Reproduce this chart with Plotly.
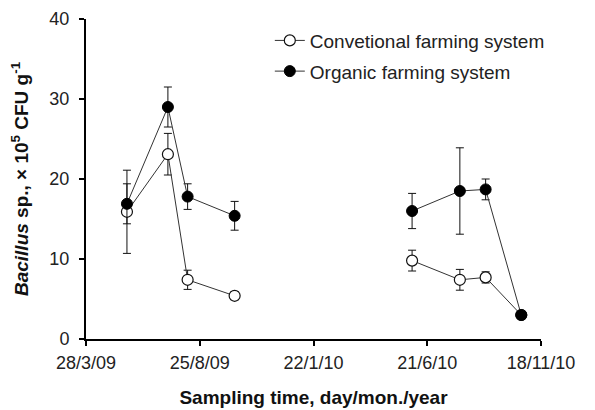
import plotly.graph_objects as go

dates = ["2009-05-21", "2009-07-14", "2009-08-09", "2009-10-10", None,
         "2010-06-01", "2010-08-03", "2010-09-06", "2010-10-23"]
conv = [15.9, 23.1, 7.4, 5.4, None, 9.8, 7.4, 7.7, 3.0]
conv_err = [5.2, 2.6, 1.2, 0.5, None, 1.3, 1.3, 0.7, 0.3]
org = [16.9, 29.0, 17.8, 15.4, None, 16.0, 18.5, 18.7, 3.0]
org_err = [2.5, 2.5, 1.6, 1.8, None, 2.2, 5.4, 1.3, 0.3]

tick_vals = ["2009-03-28", "2009-08-25", "2010-01-22", "2010-06-21", "2010-11-18"]
tick_text = ["28/3/09", "25/8/09", "22/1/10", "21/6/10", "18/11/10"]

font = "Liberation Sans, Arial, sans-serif"

fig = go.Figure()
fig.add_trace(go.Scatter(
    x=dates, y=conv, mode="lines+markers", name="Convetional farming system",
    legendgroup="a",
    line=dict(color="#333333", width=1),
    marker=dict(symbol="circle", size=11, color="white", line=dict(color="#111111", width=1.2)),
    error_y=dict(type="data", array=conv_err, color="#111111", thickness=1, width=4),
    connectgaps=False,
))
fig.add_trace(go.Scatter(
    x=dates, y=org, mode="lines+markers", name="Organic farming system",
    legendgroup="b",
    line=dict(color="#333333", width=1),
    marker=dict(symbol="circle", size=11, color="black", line=dict(color="black", width=1)),
    error_y=dict(type="data", array=org_err, color="#111111", thickness=1, width=4),
    connectgaps=False,
))

fig.update_layout(
    width=587, height=402,
    margin=dict(l=78, r=54, t=11, b=71, autoexpand=False),
    plot_bgcolor="white", paper_bgcolor="white",
    font=dict(family=font, size=17, color="#222222"),
    showlegend=True,
    legend=dict(x=0.404, y=0.992, xanchor="left", yanchor="top",
                font=dict(size=19, color="#222222"),
                tracegroupgap=3, bgcolor="rgba(0,0,0,0)"),
    xaxis=dict(
        type="date",
        range=["2009-03-28", "2010-11-18"],
        tickvals=tick_vals, ticktext=tick_text,
        showgrid=False, zeroline=False, automargin=False,
        showline=True, linecolor="black", linewidth=2,
        ticks="outside", ticklen=5, tickwidth=2, tickcolor="black",
        ticklabelstandoff=1,
        tickfont=dict(size=18, color="#222222"),
        title=dict(text="<b>Sampling time, day/mon./year</b>", font=dict(size=19, color="#111111"), standoff=19),
    ),
    yaxis=dict(
        range=[0, 40], tickvals=[0, 10, 20, 30, 40],
        showgrid=False, zeroline=False, automargin=False,
        showline=True, linecolor="black", linewidth=2,
        ticks="outside", ticklen=5, tickwidth=2, tickcolor="black",
        ticklabelstandoff=6,
        tickfont=dict(size=18, color="#222222"),
        title=dict(text="<b><i>Bacillus</i> sp., × 10<sup>5</sup> CFU g<sup>-1</sup></b>",
                   font=dict(size=19, color="#111111"), standoff=16),
    ),
)

fig.write_html("out.html")
